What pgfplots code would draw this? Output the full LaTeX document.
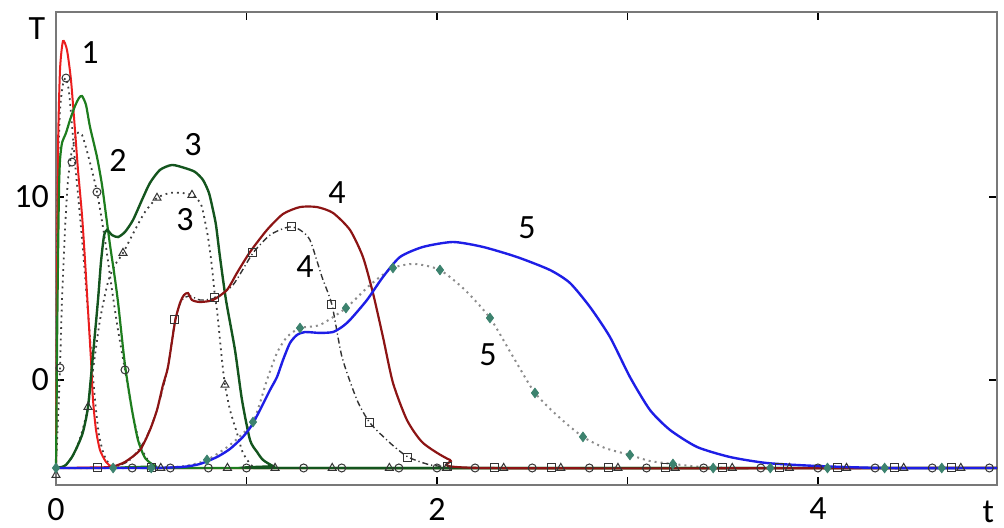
\documentclass[border=0pt]{standalone}
\usepackage{pgfplots}
\pgfplotsset{compat=1.18}
\usepackage{fontspec}
\setmainfont{Carlito}

\definecolor{cRed}{RGB}{235,30,30}
\definecolor{cGreen}{RGB}{30,125,30}
\definecolor{cDkGreen}{RGB}{20,85,30}
\definecolor{cDkRed}{RGB}{140,20,20}
\definecolor{cBlue}{RGB}{30,30,230}
\definecolor{cTeal}{RGB}{60,130,110}
\definecolor{cFrame}{RGB}{120,120,120}

\newcommand{\lbl}{\fontsize{17}{20}\selectfont}

\begin{document}
\begin{tikzpicture}
\begin{axis}[
    scale only axis,
    width=470.5pt, height=236.5pt,
    xmin=0, xmax=4.94, ymin=-5.74, ymax=20.11,
    xtick={0,1,2,3,4}, xticklabels={0,,2,,4},
    ytick={0,10},
    tick align=inside,
    major tick length=4pt,
    tick style={black, line width=0.6pt},
    axis line style={cFrame, line width=1pt},
    tick label style={font=\lbl},
    xticklabel style={yshift=-3pt},
    /pgf/number format/assume math mode=true,
    clip=false,
    every axis plot/.append style={smooth, tension=0.4},
]

% ---- analytic (dotted) curves ----
% 1 : circles
\addplot[black!75, dotted, line width=0.9pt] coordinates {
 (0,-4.81) (0.0026,0) (0.0052,6.56) (0.0105,11.48) (0.021,14.75) (0.0367,16.17)
 (0.0525,16.50) (0.0682,15.74) (0.084,13.93) (0.0997,11.91) (0.1207,9.56)
 (0.1417,7.10) (0.1627,4.37) (0.1837,1.64) (0.2047,-1.09) (0.2257,-3.01)
 (0.252,-4.10) (0.2835,-4.64) (0.3255,-4.81)
};
% 2 : circles
\addplot[black!75, dotted, line width=0.9pt] coordinates {
 (0,-4.81) (0.0105,-2.19) (0.021,0.66) (0.0315,4.37) (0.0472,8.20) (0.063,10.93)
 (0.084,12.57) (0.1102,13.50) (0.1365,13.39) (0.168,12.30) (0.2152,10.27)
 (0.2572,7.65) (0.294,4.92) (0.3255,2.73) (0.3622,0.55) (0.399,-1.64)
 (0.441,-3.55) (0.4934,-4.54) (0.5459,-4.81)
};
% 3 : triangles
\addplot[black!75, dotted, line width=0.9pt] coordinates {
 (0,-4.81) (0.0472,-4.70) (0.0997,-3.93) (0.1365,-2.84) (0.168,-1.48)
 (0.1942,0.55) (0.231,3.28) (0.273,5.36) (0.3097,6.28) (0.3517,6.94)
 (0.4147,8.20) (0.4672,9.18) (0.5302,9.95) (0.5984,10.22) (0.6614,10.22)
 (0.7139,10.11) (0.7454,9.84) (0.7664,9.45) (0.7979,7.81) (0.8189,6.17)
 (0.8346,4.54) (0.8451,3.83) (0.8714,1.09) (0.8871,-0.27) (0.9134,-1.64)
 (0.9501,-2.90) (0.9816,-3.99) (1.0341,-4.75) (1.0971,-4.81)
};
% 4 : squares, dash-dot
\addplot[black!80, dash pattern=on 3pt off 1.5pt on 0.6pt off 1.5pt, line width=0.7pt] coordinates {
 (0,-4.81) (0.231,-4.81) (0.3097,-4.75) (0.3885,-4.37) (0.4672,-3.28)
 (0.5302,-1.64) (0.5879,0.71) (0.6247,3.28) (0.6614,4.37) (0.7034,4.59)
 (0.7559,4.37) (0.8346,4.48) (0.9291,5.19) (1.0341,6.94) (1.1234,7.92)
 (1.2021,8.31) (1.2388,8.36) (1.2808,8.20) (1.3333,7.65) (1.3963,5.63)
 (1.4488,4.10) (1.5013,1.26) (1.5801,-1.09) (1.6483,-2.35) (1.7533,-3.44)
 (1.8478,-4.21) (1.9633,-4.64) (2.0577,-4.75) (2.1732,-4.81)
};
% 5 : diamonds
\addplot[black!45, dotted, line width=1pt] coordinates {
 (0,-4.81) (0.4934,-4.81) (0.6772,-4.70) (0.7927,-4.37) (0.9134,-3.55)
 (1.0341,-2.30) (1.1076,0) (1.1601,1.48) (1.2126,2.35) (1.2808,2.84)
 (1.3858,3.01) (1.5223,3.93) (1.6483,5.19) (1.769,6.12) (1.8845,6.34)
 (2.0157,6.01) (2.147,4.92) (2.2782,3.39) (2.3937,1.37) (2.5144,-0.71)
 (2.6457,-2.08) (2.7664,-3.11) (2.8819,-3.72) (3.0131,-4.10) (3.1181,-4.43)
 (3.2388,-4.59) (3.3806,-4.75) (3.5381,-4.81)
};

% ---- computed (solid) curves ----
% 1
\addplot[cRed, line width=1pt] coordinates {
 (0,-4.81) (0.0052,4.37) (0.0105,12.57) (0.021,16.94) (0.0367,18.52)
 (0.0577,18.03) (0.0787,16.39) (0.0997,13.66) (0.1155,11.48) (0.1365,9.02)
 (0.1522,6.56) (0.168,3.83) (0.1837,1.09) (0.1942,-1.09) (0.21,-2.73)
 (0.231,-3.83) (0.2625,-4.48) (0.294,-4.75) (0.35,-4.81) (4.94,-4.81)
};
% 2
\addplot[cGreen, line width=1.1pt] coordinates {
 (0,-4.81) (0.0026,-2.19) (0.0052,1.64) (0.0105,6.56) (0.0157,10.38)
 (0.021,12.02) (0.0315,12.95) (0.0525,13.50) (0.0735,14.21) (0.0997,14.97)
 (0.1207,15.41) (0.1365,15.52) (0.1575,15.03) (0.1785,13.83) (0.2152,12.19)
 (0.2415,10.66) (0.2625,9.02) (0.2835,7.38) (0.3045,5.90) (0.3255,4.26)
 (0.3622,0.82) (0.399,-1.64) (0.4304,-3.28) (0.4672,-4.26) (0.5197,-4.70)
 (0.5722,-4.81) (4.94,-4.81)
};
% 3
\addplot[cDkGreen, line width=1.2pt] coordinates {
 (0,-4.81) (0.0315,-4.75) (0.0525,-4.64) (0.084,-4.21) (0.1155,-3.55)
 (0.1417,-2.84) (0.168,-1.48) (0.1942,1.37) (0.2205,4.37) (0.2362,6.45)
 (0.252,7.87) (0.2677,8.20) (0.294,7.92) (0.3255,7.81) (0.3622,8.09)
 (0.4042,8.74) (0.4514,9.84) (0.4934,10.77) (0.5459,11.48) (0.6089,11.75)
 (0.6772,11.58) (0.7297,11.37) (0.7717,10.93) (0.8031,10.22) (0.8241,9.29)
 (0.8399,8.47) (0.8609,6.72) (0.8924,4.37) (0.9396,1.64) (0.9764,-1.09)
 (1.0184,-3.28) (1.0551,-3.93) (1.0866,-4.37) (1.1391,-4.70) (1.1916,-4.81)
 (4.94,-4.81)
};
% 4
\addplot[cDkRed, line width=1.1pt] coordinates {
 (0,-4.81) (0.231,-4.81) (0.294,-4.75) (0.3622,-4.48) (0.441,-3.83)
 (0.4934,-2.73) (0.5302,-1.64) (0.5617,-0.27) (0.5879,0.71) (0.6247,3.17)
 (0.6509,4.21) (0.6719,4.64) (0.6929,4.75) (0.7139,4.37) (0.7559,4.26)
 (0.8241,4.37) (0.8976,4.92) (0.9501,5.85) (1.0184,6.99) (1.1076,8.20)
 (1.1916,9.07) (1.2808,9.45) (1.3701,9.45) (1.4541,9.13) (1.5433,8.20)
 (1.6115,6.72) (1.664,4.75) (1.7165,2.35) (1.769,-0.16) (1.8425,-2.19)
 (1.9265,-3.44) (2.0682,-4.37) (2.2415,-4.81) (4.94,-4.81)
};
% 5
\addplot[cBlue, line width=1.2pt] coordinates {
 (0,-4.81) (0.4934,-4.81) (0.6667,-4.75) (0.7559,-4.59) (0.8451,-4.21)
 (0.9134,-3.77) (0.9816,-3.11) (1.0289,-2.46) (1.0709,-1.64) (1.1234,-0.55)
 (1.1601,0.16) (1.1916,1.09) (1.2283,2.02) (1.2651,2.46) (1.3071,2.62)
 (1.3858,2.57) (1.4541,2.62) (1.5013,2.90) (1.5433,3.28) (1.6325,4.37)
 (1.7165,5.63) (1.8058,6.72) (1.9265,7.27) (2.084,7.54) (2.2415,7.27)
 (2.4199,6.72) (2.5932,6.01) (2.6982,5.30) (2.8031,3.99) (2.9081,2.35)
 (3.0131,0.16) (3.1181,-1.64) (3.2231,-2.73) (3.3648,-3.66) (3.5381,-4.21)
 (3.7323,-4.54) (3.9948,-4.70) (4.3412,-4.81) (4.94,-4.81)
};

% ---- markers ----
\addplot[only marks, mark=o, mark size=2pt, black!80, line width=0.5pt] coordinates {
 (0.0525,16.50) (0.084,11.91) (0.021,0.66) (0.2152,10.27) (0.3622,0.55)
 (0.4,-4.81) (0.6,-4.81) (0.8,-4.81) (1.0,-4.81) (1.3,-4.81) (1.5,-4.81)
 (1.8,-4.81) (2.0,-4.81) (2.2,-4.81) (2.5,-4.81) (2.8,-4.81) (3.1,-4.81)
 (3.4,-4.81) (3.7,-4.81) (4.0,-4.81) (4.3,-4.81) (4.6,-4.81) (4.9,-4.81)
};
\addplot[only marks, mark=triangle, mark size=2.3pt, black!80, line width=0.5pt] coordinates {
 (0.168,-1.48) (0.3517,6.94) (0.5302,9.95) (0.7139,10.11) (0.8871,-0.27)
 (0.0,-5.2) (0.55,-4.81) (0.9,-4.81) (1.15,-4.81) (1.45,-4.81) (1.75,-4.81)
 (2.05,-4.81) (2.35,-4.81) (2.65,-4.81) (2.95,-4.81) (3.25,-4.81)
 (3.55,-4.81) (3.85,-4.81) (4.15,-4.81) (4.45,-4.81) (4.75,-4.81)
};
\addplot[only marks, mark=square, mark size=2pt, black!80, line width=0.5pt] coordinates {
 (0.6247,3.28) (0.8346,4.48) (1.0341,6.94) (1.2388,8.36) (1.4488,4.10)
 (1.6483,-2.35) (1.8478,-4.21) (2.0577,-4.75)
 (0.22,-4.81) (0.5,-4.81) (2.3,-4.81) (2.6,-4.81) (2.9,-4.81) (3.2,-4.81)
 (3.5,-4.81) (3.8,-4.81) (4.1,-4.81) (4.4,-4.81) (4.7,-4.81)
};
\addplot[only marks, mark=diamond*, mark size=2.4pt, cTeal] coordinates {
 (1.0341,-2.30) (1.2808,2.84) (1.5223,3.93) (1.769,6.12) (2.0157,6.01)
 (2.2782,3.39) (2.5144,-0.71) (2.7664,-3.11) (3.0131,-4.10) (3.2388,-4.59)
 (0.0,-4.81) (0.3,-4.81) (0.5,-4.81) (0.7927,-4.37)
 (3.45,-4.81) (3.75,-4.81) (4.05,-4.81) (4.35,-4.81) (4.65,-4.81)
};

% ---- curve numbers and axis names ----
\begin{scope}[every node/.style={font=\lbl, inner sep=0pt}]
\node at (axis cs:0.178,17.9) {1};
\node at (axis cs:0.325,12.0) {2};
\node at (axis cs:0.719,12.84) {3};
\node at (axis cs:0.677,8.74) {3};
\node at (axis cs:1.475,10.22) {4};
\node at (axis cs:1.307,6.17) {4};
\node at (axis cs:2.472,8.31) {5};
\node at (axis cs:2.268,1.37) {5};
\node at (axis cs:-0.1,19.23) {T};
\node at (axis cs:4.895,-7.2) {t};
\end{scope}
\end{axis}
\pgfresetboundingbox
\path[use as bounding box] ([shift={(-28pt,-21.5pt)}]current axis.south west)
  rectangle ([shift={(3.5pt,6pt)}]current axis.north east);
\end{tikzpicture}
\end{document}
